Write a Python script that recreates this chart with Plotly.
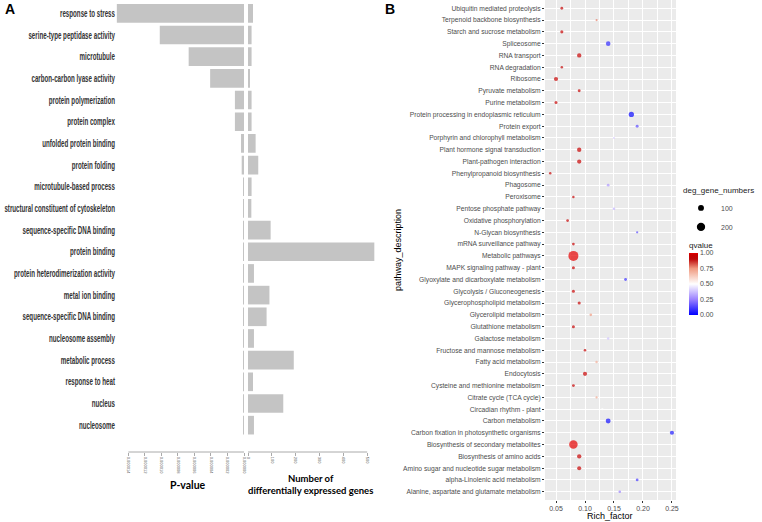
import plotly.graph_objects as go

W, H = 762, 522
def px(p): return p / W
def py(p): return 1 - p / H

# ---------------- Panel A data ----------------
go_terms = ["response to stress", "serine-type peptidase activity", "microtubule",
            "carbon-carbon lyase activity", "protein polymerization", "protein complex",
            "unfolded protein binding", "protein folding", "microtubule-based process",
            "structural constituent of cytoskeleton", "sequence-specific DNA binding",
            "protein binding", "protein heterodimerization activity", "metal ion binding",
            "sequence-specific DNA binding", "nucleosome assembly", "metabolic process",
            "response to heat", "nucleus", "nucleosome"]
p_values = [1.54e-5, 1.02e-5, 6.7e-6, 4.1e-6, 1.1e-6, 1.1e-6, 3.6e-7, 2.8e-7, 1.2e-7,
            6e-8, 1e-7, 1e-7, 1e-7, 1e-7, 1e-7, 1e-7, 1e-7, 1e-7, 1e-7, 1e-7]
deg_counts = [21, 15, 15, 7, 15, 15, 32, 43, 15, 14, 95, 530, 25, 90, 78, 25, 192, 21, 148, 25]
p_ticks = [0, 2e-6, 4e-6, 6e-6, 8e-6, 1e-5, 1.2e-5, 1.4e-5]
p_tick_labels = ["0.000000", "0.000002", "0.000004", "0.000006", "0.000008",
                 "0.000010", "0.000012", "0.000014"]
n_ticks = [0, 100, 200, 300, 400, 500]

# ---------------- Panel B data ----------------
pathways = ["Ubiquitin mediated proteolysis", "Terpenoid backbone biosynthesis",
            "Starch and sucrose metabolism", "Spliceosome", "RNA transport", "RNA degradation",
            "Ribosome", "Pyruvate metabolism", "Purine metabolism",
            "Protein processing in endoplasmic reticulum", "Protein export",
            "Porphyrin and chlorophyll metabolism", "Plant hormone signal transduction",
            "Plant-pathogen interaction", "Phenylpropanoid biosynthesis", "Phagosome",
            "Peroxisome", "Pentose phosphate pathway", "Oxidative phosphorylation",
            "N-Glycan biosynthesis", "mRNA surveillance pathway", "Metabolic pathways",
            "MAPK signaling pathway - plant", "Glyoxylate and dicarboxylate metabolism",
            "Glycolysis / Gluconeogenesis", "Glycerophospholipid metabolism",
            "Glycerolipid metabolism", "Glutathione metabolism", "Galactose metabolism",
            "Fructose and mannose metabolism", "Fatty acid metabolism", "Endocytosis",
            "Cysteine and methionine metabolism", "Citrate cycle (TCA cycle)",
            "Circadian rhythm - plant", "Carbon metabolism",
            "Carbon fixation in photosynthetic organisms",
            "Biosynthesis of secondary metabolites", "Biosynthesis of amino acids",
            "Amino sugar and nucleotide sugar metabolism", "alpha-Linolenic acid metabolism",
            "Alanine, aspartate and glutamate metabolism"]
rich_factor = [0.06, 0.12, 0.06, 0.14, 0.09, 0.06, 0.05, 0.09, 0.05, 0.18, 0.19, 0.15,
               0.09, 0.09, 0.04, 0.14, 0.08, 0.15, 0.07, 0.19, 0.08, 0.08, 0.08, 0.17,
               0.08, 0.09, 0.11, 0.08, 0.14, 0.10, 0.12, 0.10, 0.08, 0.12, 0.13, 0.14,
               0.25, 0.08, 0.09, 0.09, 0.19, 0.16]
deg_gene_numbers = [22, 14, 28, 60, 55, 18, 50, 24, 26, 80, 25, 12, 55, 52, 18, 22, 18,
                    20, 22, 15, 22, 290, 26, 24, 28, 28, 20, 26, 18, 20, 18, 50, 24, 15,
                    15, 70, 50, 210, 55, 48, 22, 20]
qvalue = [0.95, 0.78, 0.96, 0.08, 0.96, 0.93, 0.96, 0.95, 0.96, 0.02, 0.15, 0.40, 0.97,
          0.97, 0.95, 0.30, 0.94, 0.35, 0.95, 0.15, 0.96, 1.00, 0.96, 0.10, 0.96, 0.95,
          0.75, 0.95, 0.38, 0.95, 0.70, 0.97, 0.95, 0.72, 0.50, 0.03, 0.05, 1.00, 0.97,
          0.96, 0.12, 0.25]
rich_ticks = [0.05, 0.10, 0.15, 0.20, 0.25]
size_legend = [100, 200]
q_ticks = [0, 0.25, 0.5, 0.75, 1.0]

SIZEREF = 5.8
BAR = "#C4C4C4"
SANS = "Liberation Sans, Arial, sans-serif"

fig = go.Figure()
idxA = list(range(len(go_terms)))
fig.add_trace(go.Bar(x=p_values, y=idxA, orientation="h", marker=dict(color=BAR, line=dict(width=0)),
                     xaxis="x", yaxis="y", showlegend=False))
fig.add_trace(go.Bar(x=deg_counts, y=idxA, orientation="h", marker=dict(color=BAR, line=dict(width=0)),
                     xaxis="x2", yaxis="y", showlegend=False))

idxB = list(range(len(pathways)))
fig.add_trace(go.Scatter(
    x=rich_factor, y=idxB, mode="markers", xaxis="x3", yaxis="y3", showlegend=False,
    marker=dict(size=deg_gene_numbers, sizemode="area", sizeref=SIZEREF, sizemin=1,
                color=qvalue, cmin=0, cmax=1,
                colorscale=[[0, "#0000FF"], [0.25, "#9A80FF"], [0.5, "#FFFFFF"],
                            [0.75, "#F09A80"], [0.9, "#BE0A0A"], [0.97, "#C80000"],
                            [1, "#E60000"]],
                line=dict(width=0),
                colorbar=dict(x=px(689), xanchor="left", y=py(277), yanchor="middle",
                              len=76, lenmode="pixels", thickness=9, outlinewidth=0,
                              xpad=0, ypad=0,
                              title=dict(text="qvalue", side="top",
                                         font=dict(size=8, family=SANS, color="#222")),
                              tickvals=q_ticks, ticktext=[f"{v:.2f}" for v in q_ticks],
                              ticks="", tickfont=dict(size=7, family=SANS, color="#4D4D4D")))))
for v in size_legend:
    fig.add_trace(go.Scatter(x=[None], y=[None], mode="markers", xaxis="x3", yaxis="y3",
                             name=str(v), showlegend=True,
                             marker=dict(size=(2 * v / SIZEREF) ** 0.5, color="black")))

tickfontA = dict(size=4, family=SANS, color="#555")
def ann(text, x, y, size, family=SANS, angle=0):
    return dict(text=text, x=px(x), y=py(y), xref="paper", yref="paper", showarrow=False,
                xanchor="center", yanchor="middle", textangle=angle,
                font=dict(size=size, family=family, color="black"))

fig.update_layout(
    width=W, height=H, margin=dict(l=0, r=0, t=0, b=0, autoexpand=False),
    paper_bgcolor="white", plot_bgcolor="rgba(0,0,0,0)",
    bargap=0.14,
    xaxis=dict(domain=[px(116), px(244)], range=[1.55e-5, 0], anchor="free", position=py(452),
               tickmode="array", tickvals=p_ticks, ticktext=p_tick_labels, tickangle=90,
               tickfont=tickfontA, ticks="outside", ticklen=3, tickcolor="#AAAAAA",
               showgrid=False, zeroline=False, showline=False, automargin=False),
    xaxis2=dict(domain=[px(248), px(376)], range=[0, 537], anchor="free", position=py(452),
                tickmode="array", tickvals=n_ticks, ticktext=[str(v) for v in n_ticks],
                tickangle=90, tickfont=tickfontA, ticks="outside", ticklen=3, tickcolor="#AAAAAA",
                showgrid=False, zeroline=False, showline=False, automargin=False),
    yaxis=dict(domain=[py(436), py(2.5)], range=[19.5, -0.5], anchor="x",
               tickmode="array", tickvals=idxA, ticktext=go_terms, ticks="",
               tickfont=dict(size=10, family=SANS, color="#333", weight="bold"),
               showgrid=False, zeroline=False, showline=False, automargin=False),
    xaxis3=dict(domain=[px(545), px(676)], range=[0.031, 0.257], anchor="y3",
                tickmode="linear", tick0=0.05, dtick=0.05, tickformat=".2f",
                tickfont=dict(size=7, family=SANS, color="#4D4D4D"),
                ticks="outside", ticklen=2, tickcolor="#333",
                showgrid=True, gridcolor="white", gridwidth=1,
                minor=dict(tick0=0.025, dtick=0.05, showgrid=True, gridcolor="white", gridwidth=0.5),
                zeroline=False, showline=False, automargin=False),
    yaxis3=dict(domain=[py(500), 1], range=[41.7, -0.7], anchor="x3",
                tickmode="array", tickvals=idxB, ticktext=pathways,
                tickfont=dict(size=6.7, family=SANS, color="#4D4D4D"),
                ticks="outside", ticklen=2, tickcolor="#333",
                showgrid=True, gridcolor="white", gridwidth=1,
                zeroline=False, showline=False, automargin=False),
    legend=dict(x=px(681), y=py(183), xanchor="left", yanchor="top",
                title=dict(text="deg_gene_numbers", font=dict(size=8, family=SANS, color="#222")),
                font=dict(size=7, family=SANS, color="#4D4D4D"), itemwidth=30,
                tracegroupgap=0, bgcolor="rgba(0,0,0,0)"),
    shapes=[
        dict(type="rect", xref="x3 domain", yref="y3 domain", x0=0, x1=1, y0=0, y1=1,
             fillcolor="#EBEBEB", line=dict(width=0), layer="below"),
        dict(type="line", xref="x", yref="paper", x0=p_ticks[-1], x1=0, y0=py(452), y1=py(452),
             line=dict(color="#AAAAAA", width=1)),
        dict(type="line", xref="x2", yref="paper", x0=0, x1=n_ticks[-1], y0=py(452), y1=py(452),
             line=dict(color="#AAAAAA", width=1)),
    ],
    annotations=[
        dict(text="<b>A</b>", x=px(3), y=py(9), xref="paper", yref="paper", showarrow=False,
             xanchor="left", yanchor="middle", font=dict(size=14, family=SANS, color="black")),
        dict(text="<b>B</b>", x=px(383), y=py(9), xref="paper", yref="paper", showarrow=False,
             xanchor="left", yanchor="middle", font=dict(size=14, family=SANS, color="black")),
        ann("<b>P-value</b>", 188, 485, 10.5, "Lato, sans-serif"),
        ann("<b>Number of<br>differentially expressed genes</b>", 310, 484, 9.5, "Lato, sans-serif"),
        ann("pathway_description", 398, 250, 9, angle=-90),
        ann("Rich_factor", 610, 516, 9),
    ],
)

post = """
document.body.style.margin = '0';
var gd = document.getElementById('{plot_id}');
gd.querySelectorAll('g.ytick text').forEach(function (t) {
  var x = parseFloat(t.getAttribute('x')) || 0;
  var tr = t.getAttribute('transform') || '';
  t.setAttribute('transform', tr + ' translate(' + x + ',0) scale(0.62,1) translate(' + (-x) + ',0)');
});
"""
fig.write_html("out.html", post_script=post, config={"displayModeBar": False})
